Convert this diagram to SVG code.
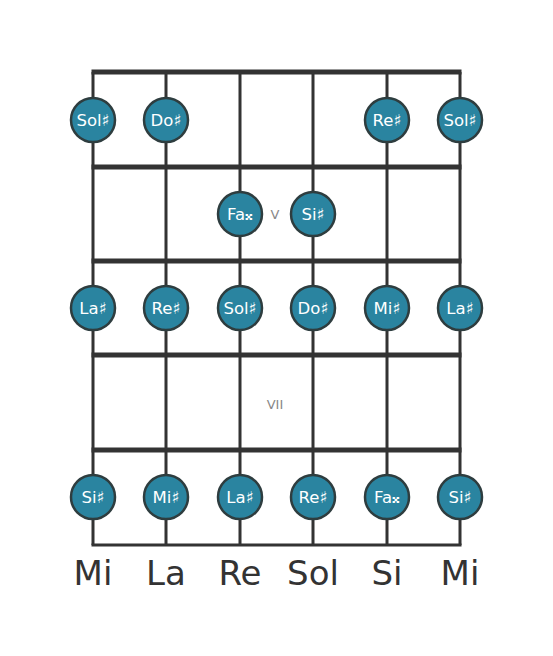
<svg xmlns="http://www.w3.org/2000/svg" width="553" height="656" viewBox="0 0 553 656">
<style>
.str{stroke:#333;stroke-width:3}
.fret{stroke:#333;stroke-width:5}
.n circle{fill:#2a84a0;stroke:#2e3d3f;stroke-width:2.5}
.n text{fill:#fff;font-family:"DejaVu Sans",sans-serif;font-size:16.5px;text-anchor:middle;dominant-baseline:central}
.fn{fill:#888;font-family:"DejaVu Sans",sans-serif;font-size:13px;text-anchor:middle;dominant-baseline:central}
.sn{fill:#333;font-family:"DejaVu Sans",sans-serif;font-size:34px;text-anchor:middle}
</style>
<rect width="553" height="656" fill="#fff"/>
<g id="connectors">
<line class="str" x1="93" y1="72" x2="93" y2="545"/>
<line class="str" x1="166" y1="72" x2="166" y2="545"/>
<line class="str" x1="240" y1="72" x2="240" y2="545"/>
<line class="str" x1="313" y1="72" x2="313" y2="545"/>
<line class="str" x1="387" y1="72" x2="387" y2="545"/>
<line class="str" x1="460" y1="72" x2="460" y2="545"/>
<line class="fret" x1="91.5" y1="72" x2="461.5" y2="72"/>
<line class="fret" x1="91.5" y1="167" x2="461.5" y2="167"/>
<line class="fret" x1="91.5" y1="261" x2="461.5" y2="261"/>
<line class="fret" x1="91.5" y1="355" x2="461.5" y2="355"/>
<line class="fret" x1="91.5" y1="450" x2="461.5" y2="450"/>
<line class="str" x1="91.5" y1="545" x2="461.5" y2="545"/>
</g>
<text class="fn" x="275" y="214">V</text>
<text class="fn" x="275" y="404">VII</text>
<g id="n1" class="n"><circle cx="93" cy="120" r="22"/><text x="93" y="120">Sol♯</text></g>
<g id="n2" class="n"><circle cx="166" cy="120" r="22"/><text x="166" y="120">Do♯</text></g>
<g id="n3" class="n"><circle cx="387" cy="120" r="22"/><text x="387" y="120">Re♯</text></g>
<g id="n4" class="n"><circle cx="460" cy="120" r="22"/><text x="460" y="120">Sol♯</text></g>
<g id="n5" class="n"><circle cx="240" cy="214" r="22"/><text x="240" y="214">Fa𝄪</text></g>
<g id="n6" class="n"><circle cx="313" cy="214" r="22"/><text x="313" y="214">Si♯</text></g>
<g id="n7" class="n"><circle cx="93" cy="308" r="22"/><text x="93" y="308">La♯</text></g>
<g id="n8" class="n"><circle cx="166" cy="308" r="22"/><text x="166" y="308">Re♯</text></g>
<g id="n9" class="n"><circle cx="240" cy="308" r="22"/><text x="240" y="308">Sol♯</text></g>
<g id="n10" class="n"><circle cx="313" cy="308" r="22"/><text x="313" y="308">Do♯</text></g>
<g id="n11" class="n"><circle cx="387" cy="308" r="22"/><text x="387" y="308">Mi♯</text></g>
<g id="n12" class="n"><circle cx="460" cy="308" r="22"/><text x="460" y="308">La♯</text></g>
<g id="n13" class="n"><circle cx="93" cy="497" r="22"/><text x="93" y="497">Si♯</text></g>
<g id="n14" class="n"><circle cx="166" cy="497" r="22"/><text x="166" y="497">Mi♯</text></g>
<g id="n15" class="n"><circle cx="240" cy="497" r="22"/><text x="240" y="497">La♯</text></g>
<g id="n16" class="n"><circle cx="313" cy="497" r="22"/><text x="313" y="497">Re♯</text></g>
<g id="n17" class="n"><circle cx="387" cy="497" r="22"/><text x="387" y="497">Fa𝄪</text></g>
<g id="n18" class="n"><circle cx="460" cy="497" r="22"/><text x="460" y="497">Si♯</text></g>
<text class="sn" x="93" y="585">Mi</text>
<text class="sn" x="166" y="585">La</text>
<text class="sn" x="240" y="585">Re</text>
<text class="sn" x="313" y="585">Sol</text>
<text class="sn" x="387" y="585">Si</text>
<text class="sn" x="460" y="585">Mi</text>
</svg>
